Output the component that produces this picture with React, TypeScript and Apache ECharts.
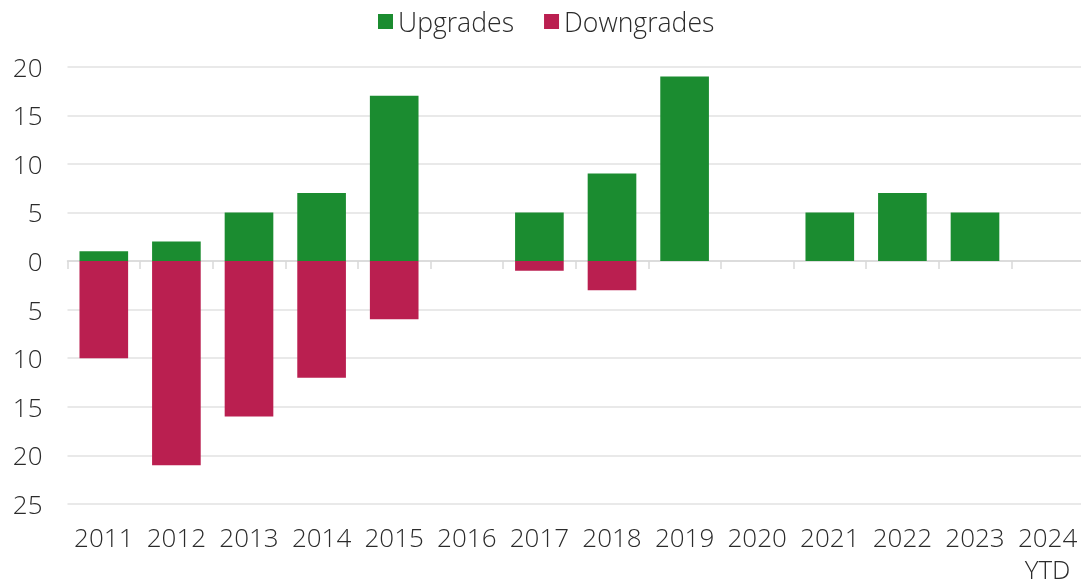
import React, { useEffect, useRef } from "react";
import * as echarts from "echarts";

const categories = ["2011", "2012", "2013", "2014", "2015", "2016", "2017", "2018", "2019", "2020", "2021", "2022", "2023", "2024\nYTD"];
const upgrades = [1, 2, 5, 7, 17, 0, 5, 9, 19, 0, 5, 7, 5, 0];
const downgrades = [-10, -21, -16, -12, -6, 0, -1, -3, 0, 0, 0, 0, 0, 0];
const yMin = -25;
const yMax = 20;
const yStep = 5;

const FONT = "'Open Sans', Roboto, sans-serif";
const TEXT = "#2b2b2b";

export default function App() {
  const ref = useRef<HTMLDivElement>(null);
  useEffect(() => {
    if (!ref.current) return;
    const chart = echarts.init(ref.current, undefined, { renderer: "svg" });
    chart.setOption({
      animation: false,
      legend: {
        top: 8,
        left: 378,
        padding: 0,
        itemWidth: 15,
        itemHeight: 15,
        itemGap: 30,
        icon: "rect",
        textStyle: { fontFamily: FONT, fontSize: 26.6, fontWeight: 300, color: TEXT, lineHeight: 26 },
        data: ["Upgrades", "Downgrades"],
      },
      grid: { left: 67.5, top: 66.7, width: 1016.4, height: 437.3, containLabel: false, outerBoundsMode: "none" },
      xAxis: [
        {
          type: "category",
          data: categories,
          position: "bottom",
          axisLine: { show: false, onZero: false },
          axisTick: { show: false },
          axisLabel: { margin: 17, fontFamily: FONT, fontSize: 26, fontWeight: 300, color: TEXT, lineHeight: 32, interval: 0 },
        },
        {
          type: "category",
          data: categories,
          position: "bottom",
          axisLine: { show: true, onZero: true, lineStyle: { color: "#d9d9d9", width: 1.5 } },
          axisTick: { show: true, length: 8, lineStyle: { color: "#d9d9d9", width: 1.5 } },
          axisLabel: { show: false },
        },
      ],
      yAxis: {
        type: "value",
        min: yMin,
        max: yMax,
        interval: yStep,
        axisLine: { show: false },
        axisTick: { show: false },
        splitLine: { lineStyle: { color: "#e2e2e2", width: 1.5 } },
        axisLabel: {
          margin: 25,
          fontFamily: FONT,
          fontSize: 26,
          fontWeight: 300,
          color: TEXT,
          formatter: (v: number) => String(Math.abs(v)),
        },
      },
      series: [
        {
          name: "Upgrades",
          type: "bar",
          stack: "a",
          xAxisIndex: 0,
          barWidth: "67%",
          data: upgrades,
          itemStyle: { color: "#1b8c30" },
        },
        {
          name: "Downgrades",
          type: "bar",
          stack: "a",
          xAxisIndex: 0,
          barWidth: "67%",
          data: downgrades,
          itemStyle: { color: "#ba1f50" },
        },
      ],
    });
    return () => chart.dispose();
  }, []);
  return <div ref={ref} style={{ position: "fixed", left: 0, top: 0, width: 1081, height: 579 }} />;
}
